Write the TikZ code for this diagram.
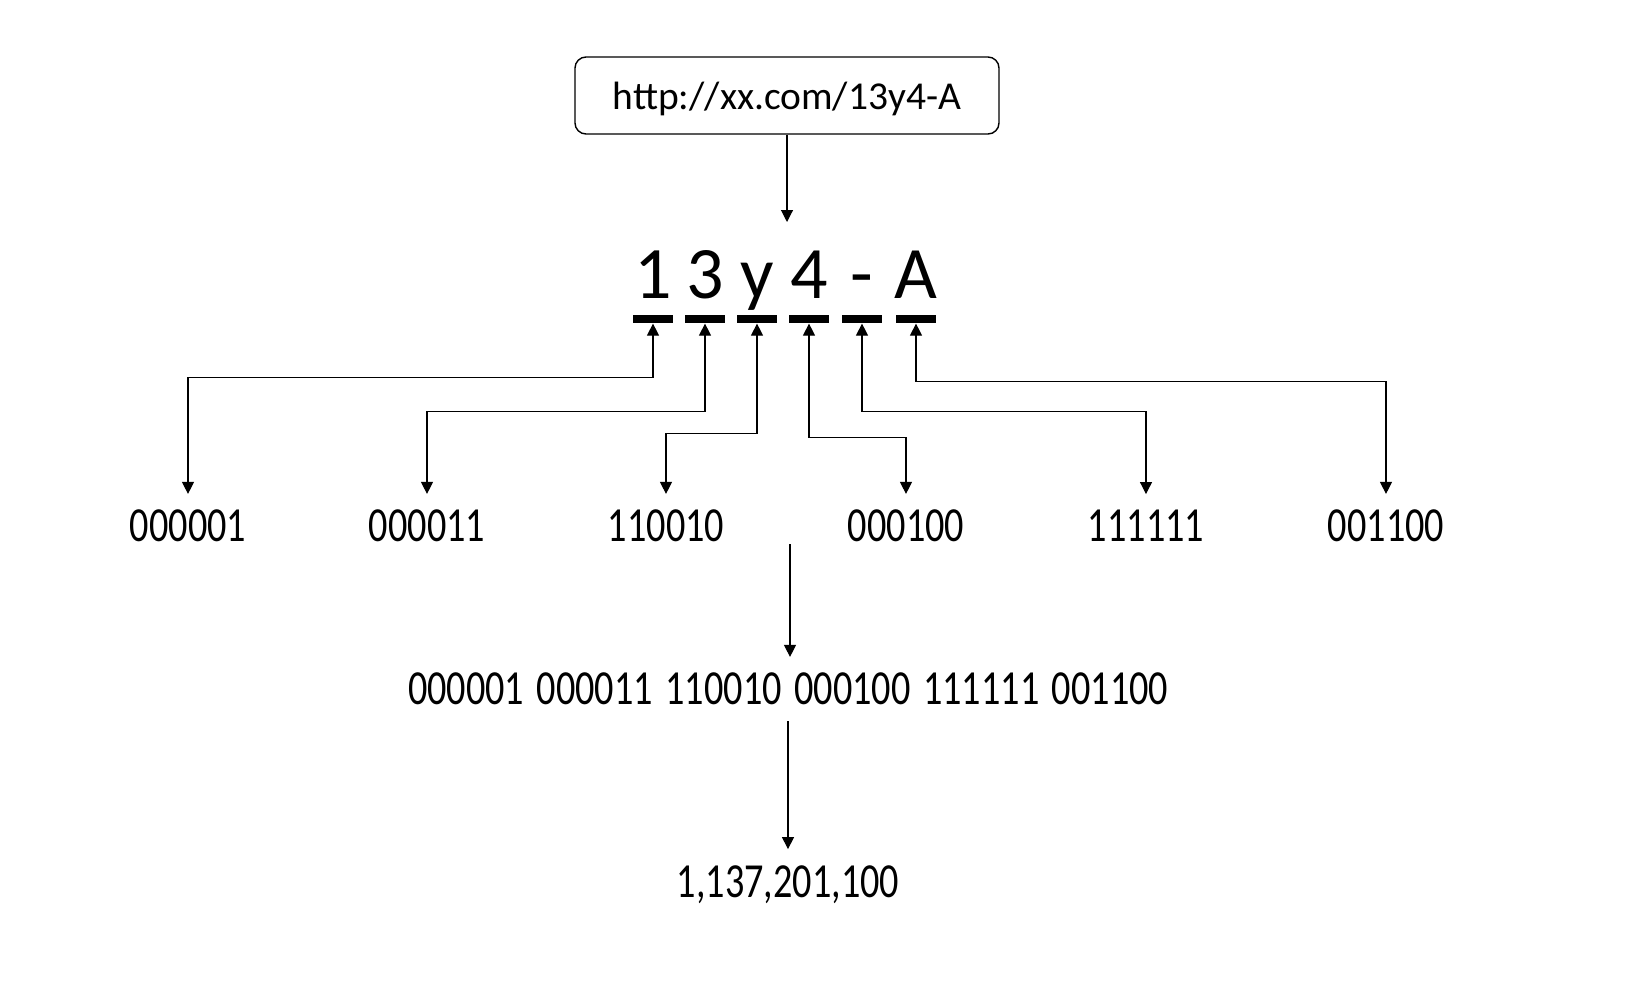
\documentclass[tikz,border=0pt]{standalone}
\usepackage{fontspec}
\setmainfont{Carlito}
\newfontfamily\numfont[FakeStretch=0.78,WordSpace=1.45]{Carlito}
\usetikzlibrary{positioning,arrows.meta}

\tikzset{
  link/.style={line width=1.1pt,{Triangle[length=12pt,width=12pt]}-{Triangle[length=12pt,width=12pt]}},
  pointer/.style={line width=1.1pt,-{Triangle[length=12pt,width=12pt]}},
  glyph/.style={inner sep=0pt,text depth=0pt,font=\fontsize{74}{80}\selectfont},
  bar/.style={fill=black,minimum width=40pt,minimum height=8pt,inner sep=0pt},
  bits/.style={inner xsep=0pt,inner ysep=16pt,text depth=0pt,font=\numfont\fontsize{49}{58}\selectfont},
}

\begin{document}
\begin{tikzpicture}[x=1pt,y=-1pt]
\useasboundingbox (0,0) rectangle (1630,986);
\node[draw,rounded corners=11pt,line width=1.4pt,minimum width=424pt,minimum height=77pt,text depth=0pt,font=\fontsize{39.5}{46}\selectfont] (url) at (787,95.5) {http://xx.com/13y4-A};
\coordinate (urltip) at (787,222);
\draw[pointer] (url) -- (urltip);

\node[glyph,anchor=base] (ch1) at (653,298) {1};
\node[glyph,anchor=base] (ch2) at (705,298) {3};
\node[glyph,anchor=base] (ch3) at (757,298) {y};
\node[glyph,anchor=base] (ch4) at (809,298) {4};
\node[glyph,anchor=base] (ch5) at (862,298) {-};
\node[glyph,anchor=base] (ch6) at (916,298) {A};
\node[bar,below=17pt of ch1] (bar1) {};
\node[bar,below=17pt of ch2] (bar2) {};
\node[bar,below=17pt of ch3] (bar3) {};
\node[bar,below=17pt of ch4] (bar4) {};
\node[bar,below=17pt of ch5] (bar5) {};
\node[bar,below=17pt of ch6] (bar6) {};

\node[bits] (bin1) at (188,526) {000001};
\node[bits] (bin2) at (427,526) {000011};
\node[bits] (bin3) at (666,526) {110010};
\node[bits] (bin4) at (906,526) {000100};
\node[bits] (bin5) at (1146,526) {111111};
\node[bits] (bin6) at (1386,526) {001100};
\draw[link] (bar1.south) -- ++(0,53.5) -| (bin1.north);
\draw[link] (bar2.south) -- ++(0,87.5) -| (bin2.north);
\draw[link] (bar3.south) -- ++(0,109.5) -| (bin3.north);
\draw[link] (bar4.south) -- ++(0,113.5) -| (bin4.north);
\draw[link] (bar5.south) -- ++(0,87.5) -| (bin5.north);
\draw[link] (bar6.south) -- ++(0,57.5) -| (bin6.north);

\coordinate (split) at (790,544);
\node[bits] (combo) at (788,689) {000001 000011 110010 000100 111111 001100};
\node[bits,below=128pt of combo] (final) {1,137,201,100};
\draw[pointer] (split) -- (split |- combo.north);
\draw[pointer] (combo.south) -- (final);
\end{tikzpicture}
\end{document}
